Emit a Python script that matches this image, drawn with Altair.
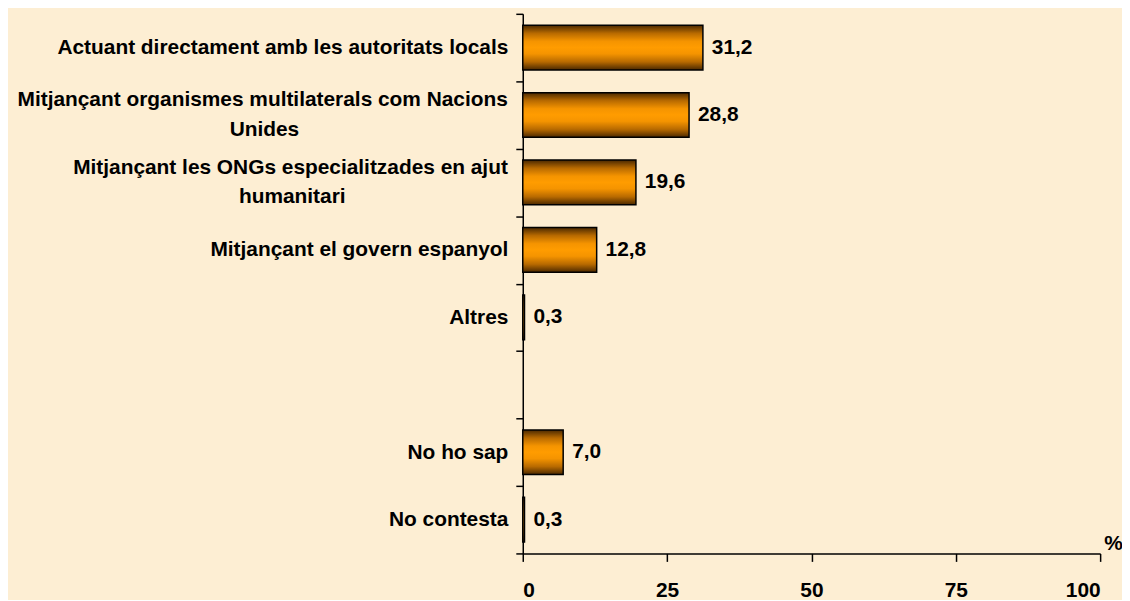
import altair as alt
import pandas as pd

categories = [
    "Actuant directament amb les autoritats locals",
    "Mitjançant organismes multilaterals com Nacions\nUnides",
    "Mitjançant les ONGs especialitzades en ajut\nhumanitari",
    "Mitjançant el govern espanyol",
    "Altres",
    " ",
    "No ho sap",
    "No contesta",
]
values = [31.2, 28.8, 19.6, 12.8, 0.3, None, 7.0, 0.3]
x_ticks = [0, 25, 50, 75, 100]

df = pd.DataFrame({"cat": categories, "val": values})
df_bars = df.dropna()
df_wrapped = df[df["cat"].str.contains("\n")]

FONT = "Liberation Sans"
FS = 21
bar_gradient = alt.Gradient(
    gradient="linear",
    x1=0, x2=0, y1=0, y2=1,
    stops=[
        alt.GradientStop(color="#4a2800", offset=0),
        alt.GradientStop(color="#b86a00", offset=0.18),
        alt.GradientStop(color="#f59400", offset=0.36),
        alt.GradientStop(color="#ff9c00", offset=0.5),
        alt.GradientStop(color="#f59400", offset=0.64),
        alt.GradientStop(color="#b86a00", offset=0.82),
        alt.GradientStop(color="#4a2800", offset=1),
    ],
)

y_enc = alt.Y(
    "cat:N",
    sort=categories,
    scale=alt.Scale(domain=categories, paddingInner=0, paddingOuter=0),
    axis=alt.Axis(
        title=None,
        # wrapped (two-line) labels are drawn by their own text layer, centred on the band
        labelExpr="indexof(datum.label, '\\n') >= 0 ? '' : datum.label",
        labelFont=FONT,
        labelFontSize=FS,
        labelFontWeight="bold",
        labelColor="black",
        labelLimit=600,
        labelAlign="right",
        labelPadding=8,
        tickBand="extent",
        tickSize=7,
        tickColor="black",
        tickWidth=1.5,
        domainColor="black",
        domainWidth=1.5,
    ),
)

x_enc = alt.X(
    "val:Q",
    scale=alt.Scale(domain=[0, 100], nice=False),
    axis=alt.Axis(
        values=x_ticks,
        title="%",
        titleFont=FONT,
        titleFontSize=FS,
        titleFontWeight="bold",
        titleColor="black",
        titleAngle=0,
        titleX=594,
        titleY=-10,
        titleAlign="center",
        titleBaseline="middle",
        labelFont=FONT,
        labelFontSize=FS,
        labelFontWeight="bold",
        labelColor="black",
        labelPadding=18,
        tickSize=8,
        tickColor="black",
        tickWidth=1.5,
        domainColor="black",
        domainWidth=1.5,
        grid=False,
    ),
)

bars = alt.Chart(df_bars).mark_bar(
    size=45, color=bar_gradient, stroke="black", strokeWidth=1.5
).encode(x=x_enc, y=y_enc)

labels = alt.Chart(df_bars).transform_calculate(
    txt="replace(format(datum.val, '.1f'), '.', ',')"
).mark_text(
    align="left", baseline="middle", dx=9,
    font=FONT, fontSize=FS, fontWeight="bold", color="black",
).encode(x="val:Q", y=alt.Y("cat:N", sort=categories), text="txt:N")

# second line padded with non-breaking spaces (kept by a zero-width space) so it is
# centred under the right-aligned first line
wrapped_labels = alt.Chart(df_wrapped).transform_calculate(
    lbl="datum.cat + (indexof(datum.cat, 'Unides') >= 0 ? pad('', 36, '\u00a0') : pad('', 28, '\u00a0')) + '\u200b'"
).mark_text(
    align="right", baseline="middle", dy=-15, lineBreak="\n", lineHeight=30,
    font=FONT, fontSize=FS, fontWeight="bold", color="black",
).encode(x=alt.value(-15), y=alt.Y("cat:N", sort=categories), text="lbl:N")

chart = alt.layer(bars, labels, wrapped_labels).properties(
    width=581,
    height=543,
    background="#fdeed3",
    padding={"left": 518, "top": 4, "right": 22, "bottom": 45},
    autosize=alt.AutoSizeParams(type="none"),
).configure_view(stroke=None)

chart.save("out.html", embed_options={"renderer": "svg", "actions": False})
